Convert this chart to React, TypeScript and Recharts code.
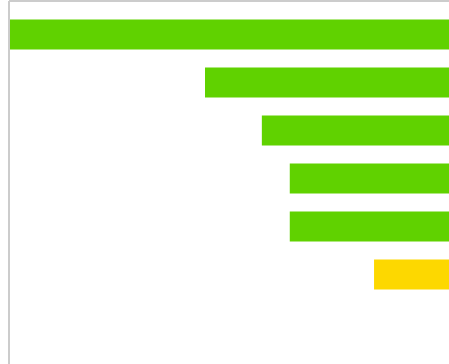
import { BarChart, Bar, XAxis, YAxis, Cell } from "recharts"

const categories = ["A", "B", "C", "D", "E", "F", "G"]
const values = [100, 60, 48.4, 42.7, 42.7, 25.5, 0]
const barColors = ["#60d200", "#60d200", "#60d200", "#60d200", "#60d200", "#fdd800", "#60d200"]

const data = categories.map((name, i) => ({ name, value: values[i] }))

export default function App() {
  return (
    <div
      style={{
        position: "fixed",
        top: 0,
        left: 0,
        width: 449,
        height: 364,
        overflow: "hidden",
        background: "#fff",
      }}
    >
      <BarChart
        width={499}
        height={364}
        data={data}
        layout="vertical"
        margin={{ top: 0, right: 0, bottom: 0, left: 8 }}
      >
        <XAxis
          type="number"
          orientation="top"
          domain={[0, 100]}
          reversed
          height={1}
          tick={false}
          tickLine={false}
          axisLine={{ stroke: "#cccccc", strokeWidth: 2 }}
        />
        <YAxis
          type="category"
          dataKey="name"
          width={1}
          tick={false}
          tickLine={false}
          padding={{ top: 9.5, bottom: 17.5 }}
          axisLine={{ stroke: "#cccccc", strokeWidth: 2 }}
        />
        <Bar dataKey="value" barSize={30} isAnimationActive={false}>
          {data.map((entry, index) => (
            <Cell key={`cell-${index}`} fill={barColors[index]} />
          ))}
        </Bar>
      </BarChart>
    </div>
  )
}
